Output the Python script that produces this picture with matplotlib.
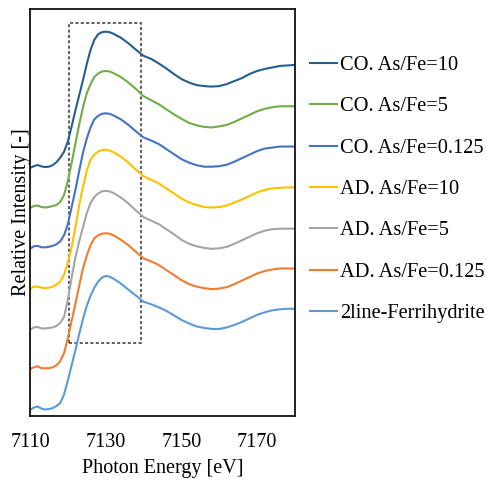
import numpy as np
import matplotlib
matplotlib.use("Agg")
import matplotlib.pyplot as plt
from matplotlib.patches import Rectangle

plt.rcParams['font.family'] = ['Liberation Serif', 'DejaVu Serif']

# photon energy grid [eV]
energy = [7110, 7111, 7112, 7113, 7114, 7115, 7116, 7117, 7118, 7119, 7120,
          7121, 7122, 7123, 7124, 7125, 7126, 7127, 7128, 7129, 7130, 7131,
          7132, 7134, 7136, 7138, 7140, 7142, 7144, 7146, 7148, 7150, 7152,
          7154, 7156, 7158, 7160, 7162, 7164, 7166, 7168, 7170, 7172, 7174,
          7176, 7178, 7180]

# normalized spectra, top to bottom
co_10 = [-0.013, 0.005, 0.017, 0.003, -0.003, 0.0, 0.015, 0.045, 0.09, 0.15, 0.25,
         0.40, 0.56, 0.71, 0.86, 1.02, 1.16, 1.26, 1.315, 1.335, 1.34, 1.335,
         1.32, 1.28, 1.225, 1.16, 1.10, 1.07, 1.025, 0.975, 0.92, 0.87, 0.835,
         0.81, 0.80, 0.795, 0.80, 0.82, 0.85, 0.88, 0.92, 0.95, 0.97, 0.985,
         1.0, 1.005, 1.01]
co_5 = [-0.01, 0.01, 0.015, 0.0, -0.005, 0.0, 0.01, 0.02, 0.05, 0.12, 0.26,
        0.44, 0.63, 0.82, 0.99, 1.13, 1.22, 1.29, 1.325, 1.345, 1.35, 1.345,
        1.33, 1.29, 1.235, 1.17, 1.10, 1.06, 1.02, 0.97, 0.92, 0.875, 0.835,
        0.81, 0.795, 0.79, 0.80, 0.815, 0.845, 0.88, 0.915, 0.95, 0.975, 0.99,
        1.0, 1.0, 1.0]
co_0125 = [-0.015, 0.01, 0.015, 0.0, 0.0, 0.005, 0.015, 0.03, 0.06, 0.12, 0.23,
           0.40, 0.57, 0.76, 0.94, 1.08, 1.19, 1.27, 1.305, 1.325, 1.33, 1.325,
           1.31, 1.27, 1.215, 1.15, 1.09, 1.06, 1.025, 0.975, 0.925, 0.875, 0.84,
           0.815, 0.80, 0.80, 0.805, 0.82, 0.85, 0.885, 0.92, 0.955, 0.98, 0.99,
           1.0, 1.0, 1.0]
ad_10 = [-0.015, 0.01, 0.01, 0.0, -0.005, 0.0, 0.01, 0.03, 0.06, 0.13, 0.25,
         0.40, 0.60, 0.82, 1.0, 1.16, 1.27, 1.32, 1.35, 1.365, 1.37, 1.36,
         1.345, 1.30, 1.24, 1.17, 1.105, 1.07, 1.035, 0.985, 0.935, 0.885, 0.845,
         0.82, 0.80, 0.795, 0.80, 0.815, 0.845, 0.875, 0.91, 0.945, 0.97, 0.985,
         0.99, 0.995, 0.995]
ad_5 = [-0.02, 0.005, 0.01, -0.005, -0.005, 0.0, 0.005, 0.02, 0.05, 0.11, 0.28,
        0.50, 0.70, 0.86, 1.0, 1.14, 1.24, 1.30, 1.335, 1.355, 1.36, 1.355,
        1.34, 1.295, 1.235, 1.165, 1.10, 1.065, 1.03, 0.98, 0.93, 0.875, 0.835,
        0.81, 0.795, 0.785, 0.79, 0.805, 0.835, 0.87, 0.905, 0.94, 0.965, 0.98,
        0.985, 0.985, 0.985]
ad_0125 = [-0.01, 0.01, 0.02, 0.0, 0.0, 0.0, 0.01, 0.03, 0.07, 0.15, 0.30,
           0.47, 0.64, 0.82, 0.99, 1.12, 1.22, 1.29, 1.32, 1.335, 1.34, 1.335,
           1.32, 1.275, 1.22, 1.155, 1.09, 1.06, 1.025, 0.975, 0.925, 0.875, 0.835,
           0.81, 0.795, 0.785, 0.79, 0.805, 0.835, 0.87, 0.905, 0.94, 0.965, 0.98,
           0.99, 0.99, 0.99]
ferrihydrite = [-0.015, 0.01, 0.02, 0.0, -0.01, -0.005, 0.005, 0.025, 0.055, 0.14, 0.28,
                0.43, 0.58, 0.74, 0.89, 1.02, 1.12, 1.20, 1.26, 1.30, 1.315, 1.31,
                1.29, 1.24, 1.18, 1.12, 1.06, 1.035, 1.005, 0.97, 0.925, 0.88, 0.845,
                0.815, 0.80, 0.79, 0.79, 0.805, 0.83, 0.86, 0.895, 0.93, 0.955, 0.975,
                0.985, 0.99, 0.99]

labels = ["CO. As/Fe=10", "CO. As/Fe=5", "CO. As/Fe=0.125", "AD. As/Fe=10",
          "AD. As/Fe=5", "AD. As/Fe=0.125", "2line-Ferrihydrite"]
spectra = [co_10, co_5, co_0125, ad_10, ad_5, ad_0125, ferrihydrite]
colors = ["#255E91", "#70AD47", "#4472C4", "#FFC000", "#A5A5A5", "#ED7D31", "#5B9BD5"]
step = 0.4

fig = plt.figure(figsize=(4.86, 4.80), dpi=100)
ax = fig.add_axes([30 / 486, 1 - 416 / 480, 265 / 486, 407 / 480])

n = len(spectra)
for i, (lab, y, c) in enumerate(zip(labels, spectra, colors)):
    ax.plot(energy, np.array(y) + (n - 1 - i) * step, color=c, lw=1.5, label=lab)

# highlighted white-line region
ax.add_patch(Rectangle((7120.2, 0.65), 19.0, 3.18, fill=False, ec='#333333',
                       lw=1.1, ls=(0, (2, 1.5))))

ax.set_xlim(7110, 7180)
ax.set_ylim(-0.074, 3.965)
ax.set_xticks([7110, 7130, 7150, 7170])
ax.set_yticks([])
ax.tick_params(axis='x', length=0, pad=12, labelsize=14.5)
for s in ax.spines.values():
    s.set_linewidth(1.3)
    s.set_color('#111111')

ax.set_xlabel('Photon Energy [eV]', fontsize=14.5, labelpad=5.5)
ax.set_ylabel('Relative Intensity [-]', fontsize=14.5, labelpad=-0.5)

ax.legend(loc='upper left', bbox_to_anchor=(1.058, 0.885), frameon=False,
          fontsize=14.7, handlelength=1.3, handletextpad=0.15, labelspacing=1.08,
          borderaxespad=0, borderpad=0)

plt.savefig('out.png', dpi=100)
